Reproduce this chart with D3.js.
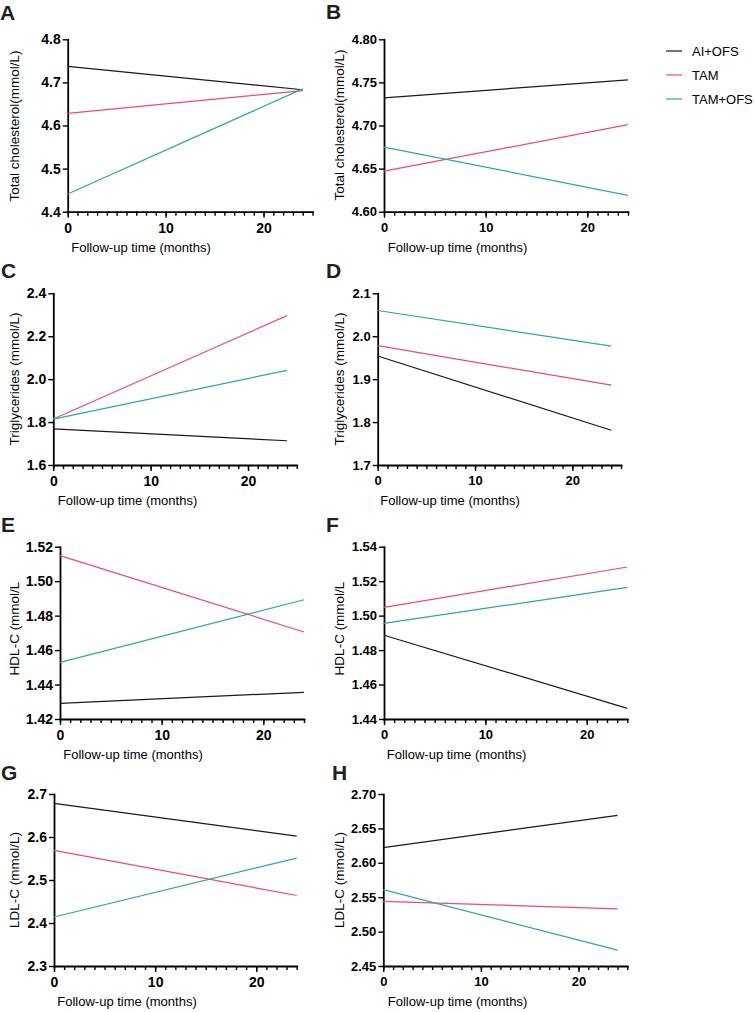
<!DOCTYPE html>
<html>
<head>
<meta charset="utf-8">
<script src="https://cdn.jsdelivr.net/npm/d3@7"></script>
<style>
  body { margin: 0; background: #fff; }
  text { font-family: "Liberation Sans", Arial, sans-serif; }
</style>
</head>
<body>
<script>
// groups and follow-up points
var groups = ["AI+OFS", "TAM", "TAM+OFS"];
var colors = ["#1a1a1a", "#ec4a7e", "#2fa6a6"];
var months = [0, 24];
var xMajorTicks = [0, 10, 20];

// values per group: [month 0, month 24]
var tcA  = [[4.737, 4.683], [4.628, 4.681], [4.441, 4.685]];
var tcB  = [[4.732, 4.753], [4.647, 4.701], [4.675, 4.619]];
var tgC  = [[1.768, 1.713], [1.814, 2.296], [1.814, 2.041]];
var tgD  = [[1.954, 1.781], [1.978, 1.886], [2.060, 1.977]];
var hdlE = [[1.4291, 1.4355], [1.5148, 1.4705], [1.4529, 1.4892]];
var hdlF = [[1.4886, 1.4462], [1.5048, 1.5282], [1.4955, 1.5164]];
var ldlG = [[2.678, 2.602], [2.569, 2.464], [2.414, 2.551]];
var ldlH = [[2.622, 2.669], [2.544, 2.533], [2.561, 2.473]];

// y ticks
var yTicksA = [4.4, 4.5, 4.6, 4.7, 4.8];
var yTicksB = [4.60, 4.65, 4.70, 4.75, 4.80];
var yTicksC = [1.6, 1.8, 2.0, 2.2, 2.4];
var yTicksD = [1.7, 1.8, 1.9, 2.0, 2.1];
var yTicksE = [1.42, 1.44, 1.46, 1.48, 1.50, 1.52];
var yTicksF = [1.44, 1.46, 1.48, 1.50, 1.52, 1.54];
var yTicksG = [2.3, 2.4, 2.5, 2.6, 2.7];
var yTicksH = [2.45, 2.50, 2.55, 2.60, 2.65, 2.70];

var yLabels = ["Total cholesterol(mmol/L)", "Triglycerides (mmol/L)", "HDL-C (mmol/L", "LDL-C (mmol/L)"];

// panel layout
var panels = [
  {id:"A", data:tcA,  ticks:yTicksA, fmt:".1f", lab:yLabels[0], left:67.7, right:312.5, top:39.3,  bottom:211.7, xMax:25, fs:14, lx:0,   ly:20,  ylx:14,  yly:126,   xlx:141},
  {id:"B", data:tcB,  ticks:yTicksB, fmt:".2f", lab:yLabels[0], left:384,  right:628,   top:39.3,  bottom:211.7, xMax:24, fs:13, lx:326, ly:19,  ylx:339, yly:125,   xlx:457.5},
  {id:"C", data:tgC,  ticks:yTicksC, fmt:".1f", lab:yLabels[1], left:53.3, right:296.7, top:293.3, bottom:465,   xMax:25, fs:14, lx:1,   ly:278, ylx:14,  yly:379,   xlx:127.5},
  {id:"D", data:tgD,  ticks:yTicksD, fmt:".1f", lab:yLabels[1], left:377.7,right:621,   top:293.3, bottom:465,   xMax:25, fs:13, lx:326, ly:278, ylx:339, yly:379,   xlx:450},
  {id:"E", data:hdlE, ticks:yTicksE, fmt:".2f", lab:yLabels[2], left:60,   right:304,   top:546.7, bottom:719,   xMax:24, fs:14, lx:1,   ly:532, ylx:14,  yly:628.5, xlx:133},
  {id:"F", data:hdlF, ticks:yTicksF, fmt:".2f", lab:yLabels[2], left:384,  right:627.3, top:546.7, bottom:719,   xMax:24, fs:13, lx:326, ly:532, ylx:339, yly:628.5, xlx:456.5},
  {id:"G", data:ldlG, ticks:yTicksG, fmt:".1f", lab:yLabels[3], left:54,   right:296.7, top:794,   bottom:966,   xMax:24, fs:14, lx:1,   ly:780, ylx:14,  yly:880,   xlx:127},
  {id:"H", data:ldlH, ticks:yTicksH, fmt:".2f", lab:yLabels[3], left:383.3,right:627.3, top:794,   bottom:966,   xMax:25, fs:13, lx:332, ly:780, ylx:339, yly:880,   xlx:457.5}
];

var svg = d3.select("body").append("svg")
    .attr("width", 754)
    .attr("height", 1012);

panels.forEach(function(p){
  var g = svg.append("g");
  var x = d3.scaleLinear().domain([0, p.xMax]).range([p.left, p.right]);
  var y = d3.scaleLinear().domain([p.ticks[0], p.ticks[p.ticks.length-1]]).range([p.bottom, p.top]);

  // minor x ticks every month
  var minor = g.append("g")
    .attr("transform", "translate(0," + p.bottom + ")")
    .call(d3.axisBottom(x).tickValues(d3.range(0, p.xMax + 1)).tickSize(4).tickSizeOuter(0).tickFormat(""));
  minor.select(".domain").remove();

  // major x ticks
  g.append("g")
    .attr("transform", "translate(0," + p.bottom + ")")
    .call(d3.axisBottom(x).tickValues(xMajorTicks).tickSize(6).tickPadding(5).tickSizeOuter(0));

  // y axis
  g.append("g")
    .attr("transform", "translate(" + p.left + ",0)")
    .call(d3.axisLeft(y).tickValues(p.ticks).tickFormat(d3.format(p.fmt)).tickSize(5).tickPadding(2).tickSizeOuter(0));

  g.selectAll(".domain").attr("stroke", "#000").attr("stroke-width", 1.8).attr("stroke-linecap", "square");
  g.selectAll(".tick line").attr("stroke", "#000").attr("stroke-width", 1.4);
  g.selectAll(".tick text")
    .attr("fill", "#000")
    .style("font-size", p.fs + "px")
    .style("font-weight", "bold")
    .style("font-family", "'Liberation Sans', Arial, sans-serif");

  // series
  var line = d3.line()
    .x(function(d, i){ return x(months[i]); })
    .y(function(d){ return y(d); });
  p.data.forEach(function(vals, k){
    g.append("path")
      .attr("d", line(vals))
      .attr("fill", "none")
      .attr("stroke", colors[k])
      .attr("stroke-width", 1.2);
  });

  // panel letter
  g.append("text")
    .attr("x", p.lx)
    .attr("y", p.ly)
    .style("font-size", "21px")
    .style("font-weight", "bold")
    .attr("fill", "#231f20")
    .text(p.id);

  // x label
  g.append("text")
    .attr("x", p.xlx)
    .attr("y", p.bottom + 40)
    .attr("text-anchor", "middle")
    .style("font-size", "13px")
    .attr("fill", "#000")
    .text("Follow-up time (months)");

  // y label
  g.append("text")
    .attr("transform", "translate(" + p.ylx + "," + p.yly + ") rotate(-90)")
    .attr("text-anchor", "middle")
    .attr("dy", "0.35em")
    .style("font-size", "13.5px")
    .attr("fill", "#000")
    .text(p.lab);
});

// legend
var legY = [51, 75, 99];
var leg = svg.append("g");
groups.forEach(function(name, i){
  leg.append("line")
    .attr("x1", 666).attr("x2", 682)
    .attr("y1", legY[i]).attr("y2", legY[i])
    .attr("stroke", colors[i])
    .attr("stroke-width", 1.2);
  leg.append("text")
    .attr("x", 692)
    .attr("y", legY[i])
    .attr("dy", "0.35em")
    .style("font-size", "13px")
    .attr("fill", "#000")
    .text(name);
});
</script>
</body>
</html>
